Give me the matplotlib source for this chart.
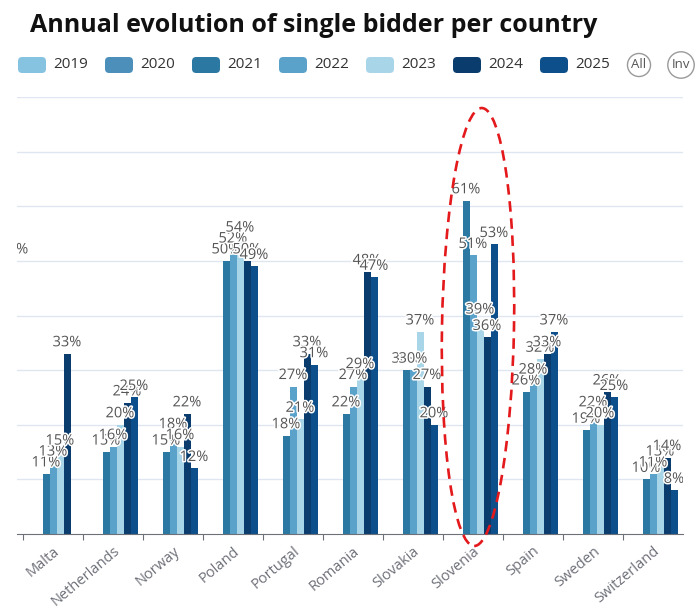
import numpy as np
import matplotlib
matplotlib.use("Agg")
import matplotlib.pyplot as plt
from matplotlib.patches import FancyBboxPatch, Ellipse
from matplotlib.transforms import offset_copy
import matplotlib.patheffects as pe

plt.rcParams['font.family'] = ['Open Sans', 'DejaVu Sans']

# data (first category is scrolled out of view on the left)
countries = ["Luxembourg", "Malta", "Netherlands", "Norway", "Poland", "Portugal",
             "Romania", "Slovakia", "Slovenia", "Spain", "Sweden", "Switzerland"]
years = ["2019", "2020", "2021", "2022", "2023", "2024", "2025"]
v2019 = [None] * 12
v2020 = [None] * 12
v2021 = [None, 11, 15, 15, 50, 18, 22, 30, 61, 26, 19, 10]
v2022 = [20, 13, 16, 18, 52, 27, 27, 30, 51, 28, 22, 11]
v2023 = [None, 15, 20, 16, 54, 21, 29, 37, 39, 32, 20, 13]
v2024 = [None, 33, 24, 22, 50, 33, 48, 27, 36, 33, 26, 14]
v2025 = [50, None, 25, 12, 49, 31, 47, 20, 53, 37, 25, 8]
series = [v2019, v2020, v2021, v2022, v2023, v2024, v2025]
colors = ["#86c3e0", "#4b8fba", "#2b78a2", "#5aa2c9", "#a9d5e8", "#0a3c6d", "#0d4f8a"]

W, H = 700, 607
fig = plt.figure(figsize=(W / 100, H / 100), dpi=100)
ax = fig.add_axes([17 / W, 1 - 534 / H, (683 - 17) / W, (534 - 97) / H])

x = np.arange(len(countries)) - 1  # Malta at 0
bw = 7 / 60
lab_tr = offset_copy(ax.transData, fig=fig, x=0, y=2.5, units="points")
for i, (vals, c) in enumerate(zip(series, colors)):
    h = np.array([np.nan if v is None else v for v in vals], dtype=float)
    xs = x + (i - 3) * bw
    ax.bar(xs, h, width=bw, color=c, linewidth=0, zorder=2)
    for xi, v in zip(xs, vals):
        if v is None:
            continue
        t = ax.text(xi, v, f"{v}%", transform=lab_tr, ha="center", va="bottom",
                    fontsize=10.5, color="#555555", zorder=3, clip_on=True)
        t.set_path_effects([pe.withStroke(linewidth=2.2, foreground="white")])

ax.set_yticks(np.arange(10, 81, 10))
ax.yaxis.grid(True, color="#e0e6f1", linewidth=1)
ax.set_axisbelow(True)
ax.tick_params(axis="y", left=False, labelleft=False)

ax.set_xticks(x[1:] - 0.5, minor=False)
ax.set_xticklabels([])
ax.set_xticks(x, minor=True)
ax.set_xticklabels(countries, minor=True, rotation=40, ha="right", va="top",
                   rotation_mode="anchor", fontsize=10.5, color="#6e7079")
ax.tick_params(axis="x", which="major", length=4, color="#6e7079", direction="out")
ax.tick_params(axis="x", which="minor", length=0, pad=7)
ax.set_xlim(-0.6, 10.5)
ax.set_ylim(0, 80)

for s in ["top", "right", "left"]:
    ax.spines[s].set_visible(False)
ax.spines["bottom"].set_color("#6e7079")

# title
fig.text(30 / W, 1 - 25 / H, "Annual evolution of single bidder per country",
         fontsize=18, fontweight="bold", color="#111111", va="center", ha="left")

# legend row
lx0, step, ly = 18, 87, 65
for i, (yr, c) in enumerate(zip(years, colors)):
    bx = lx0 + i * step
    box = FancyBboxPatch((bx / W, (H - ly - 8) / H), 28 / W, 16 / H,
                         boxstyle="round,pad=0,rounding_size=0.006",
                         transform=fig.transFigure, facecolor=c, edgecolor="none",
                         mutation_aspect=W / H)
    fig.add_artist(box)
    fig.text((bx + 35) / W, 1 - ly / H, yr, fontsize=11, color="#333333",
             va="center", ha="left")
for lab, cx in [("All", 639), ("Inv", 681)]:
    fig.text(cx / W, 1 - ly / H, lab, fontsize=9.5, color="#555555", ha="center", va="center",
             bbox=dict(boxstyle="circle,pad=0.3", fc="white", ec="#9a9a9a", lw=1))

# red dashed highlight around Slovenia
ell = Ellipse((4.78, (H - 327) / 100), 0.72, 4.38, angle=-1,
              transform=fig.dpi_scale_trans, fill=False, edgecolor="#e3191c",
              linewidth=1.9, linestyle=(0, (4, 2.5)), zorder=10)
fig.add_artist(ell)

fig.savefig("out.png", dpi=100)
